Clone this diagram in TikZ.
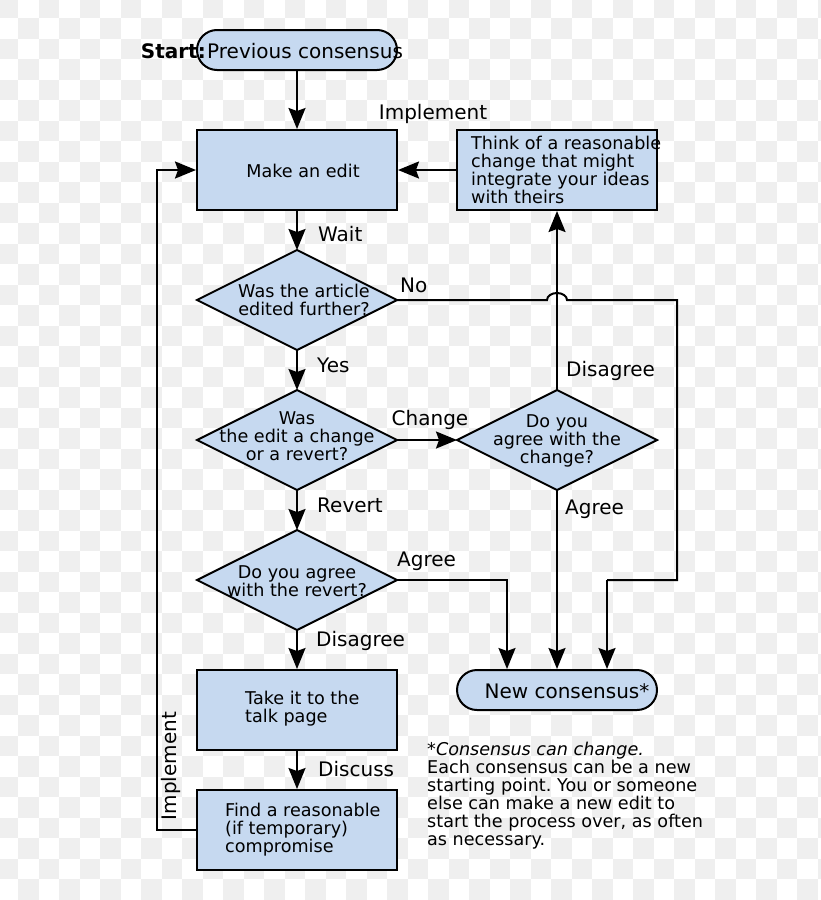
\documentclass[tikz,border=0pt]{standalone}
\usepackage{fontspec}
\setmainfont{DejaVu Sans}
\usetikzlibrary{arrows.meta}
\definecolor{boxfill}{RGB}{198,217,240}
\definecolor{checker}{RGB}{239,239,239}
\definecolor{ink}{RGB}{0,0,0}
\frenchspacing
\tikzset{
  every picture/.style={x=1pt,y=-1pt},
  conn/.style={line width=2pt, draw=ink},
  arr/.style={conn, -{Stealth[length=21pt,width=17pt,inset=3pt]}},
  boxnode/.style={draw=ink, line width=2pt, fill=boxfill, minimum width=200pt, minimum height=80pt, inner sep=0pt},
  termnode/.style={draw=ink, line width=2pt, fill=boxfill, rounded corners=20pt, minimum width=200pt, minimum height=40pt, inner sep=0pt},
  decnode/.style={draw=ink, line width=2pt, fill=boxfill},
  btext/.style={font=\fontsize{17.6}{18}\selectfont, align=left, inner sep=0pt},
  dtext/.style={font=\fontsize{17.6}{18}\selectfont, align=center, inner sep=0pt},
  lbl/.style={font=\fontsize{20}{22}\selectfont, inner sep=0pt},
}
\begin{document}
\begin{tikzpicture}
\useasboundingbox (0,0) rectangle (820,900);
% checkerboard background
\fill[white] (0,0) rectangle (820,900);
\foreach \i in {0,...,40}{
  \foreach \j in {0,...,44}{
    \pgfmathtruncatemacro{\myparity}{mod(\i+\j,2)}
    \ifnum\myparity=0
      \fill[checker] ({-2.2+20.5*\i},{-2.2+20.5*\j}) rectangle ++(20.5,20.5);
    \fi
  }
}

% terminals
\node[termnode] (start) at (297,50) {};
\node[lbl, anchor=west] (starttxt) at (207,51) {Previous consensus};
\node[lbl, anchor=east, font=\fontsize{20}{22}\selectfont\bfseries] (startlbl) at (206,51) {Start:};

\node[termnode] (newc) at (557,690) {};
\node[lbl] (newctxt) at (567,691) {New consensus*};

% boxes
\node[boxnode] (make) at (297,170) {};
\node[btext] (maketxt) at (303,171) {Make an edit};

\node[boxnode] (think) at (557,170) {};
\node[btext, anchor=west] (thinktxt) at (471,170) {Think of a reasonable\\change that might\\integrate your ideas\\with theirs};

\node[boxnode] (talk) at (297,710) {};
\node[btext, anchor=west] (talktxt) at (245,709) {Take it to the\\talk page};

\node[boxnode] (find) at (297,830) {};
\node[btext, anchor=west] (findtxt) at (225,830) {Find a reasonable\\(if temporary)\\compromise};

% decisions
\path[decnode] (197,300) coordinate (d1w) -- (297,250) coordinate (d1n) -- (397,300) coordinate (d1e) -- (297,350) coordinate (d1s) -- cycle;
\node[dtext] (d1) at (304,300) {Was the article\\edited further?};

\path[decnode] (197,440) coordinate (d2w) -- (297,390) coordinate (d2n) -- (397,440) coordinate (d2e) -- (297,490) coordinate (d2s) -- cycle;
\node[dtext] (d2) at (297,436) {Was\\the edit a change\\or a revert?};

\path[decnode] (457,440) coordinate (d3w) -- (557,390) coordinate (d3n) -- (657,440) coordinate (d3e) -- (557,490) coordinate (d3s) -- cycle;
\node[dtext] (d3) at (557,441) {Do you\\agree with the\\change?};

\path[decnode] (197,580) coordinate (d4w) -- (297,530) coordinate (d4n) -- (397,580) coordinate (d4e) -- (297,630) coordinate (d4s) -- cycle;
\node[dtext] (d4) at (297,581) {Do you agree\\with the revert?};

% connectors
\draw[arr] (start.south) -- (make.north);
\draw[arr] (think.west) -- (make.east);
\node[lbl] (implement1) at (433,114) {Implement};

\draw[arr] (make.south) -- (d1n);
\node[lbl, anchor=west] (wait) at (318,234) {Wait};

\coordinate (noA) at (677,300);
\coordinate (noB) at (677,580);
\coordinate (noC) at (607,580);
\draw[conn] (d1e) -- (547,300) arc[start angle=180, end angle=360, x radius=10, y radius=7] -- (noA) -- (noB) -- (noC);
\draw[arr] (noC) -- (newc.north -| noC);
\node[lbl, anchor=west] (no) at (400,285) {No};

\draw[arr] (d1s) -- (d2n);
\node[lbl, anchor=west] (yes) at (317,365) {Yes};

\draw[arr] (d2e) -- (d3w);
\node[lbl] (change) at (430,420) {Change};

\draw[arr] (d3n) -- (think.south);
\node[lbl, anchor=west] (dis1) at (566,371) {Disagree};

\draw[arr] (d3s) -- (newc.north -| d3s);
\node[lbl, anchor=west] (agree1) at (565,509) {Agree};

\draw[arr] (d2s) -- (d4n);
\node[lbl, anchor=west] (revert) at (317,505) {Revert};

\coordinate (agB) at (507,580);
\draw[arr] (d4e) -- (agB) -- (newc.north -| agB);
\node[lbl, anchor=west] (agree2) at (397,561) {Agree};

\draw[arr] (d4s) -- (talk.north);
\node[lbl, anchor=west] (dis2) at (316,641) {Disagree};

\draw[arr] (talk.south) -- (find.north);
\node[lbl, anchor=west] (discuss) at (318,769) {Discuss};

\coordinate (loopA) at (157,830);
\coordinate (loopB) at (157,170);
\draw[arr] (find.west) -- (loopA) -- (loopB) -- (make.west);
\node[lbl, rotate=90] (implement2) at (171,766) {Implement};

% footnote
\node[btext, anchor=north west] (note) at (427,742) {\textit{*Consensus can change.}\\Each consensus can be a new\\starting point. You or someone\\else can make a new edit to\\start the process over, as often\\as necessary.};
\end{tikzpicture}
\end{document}
